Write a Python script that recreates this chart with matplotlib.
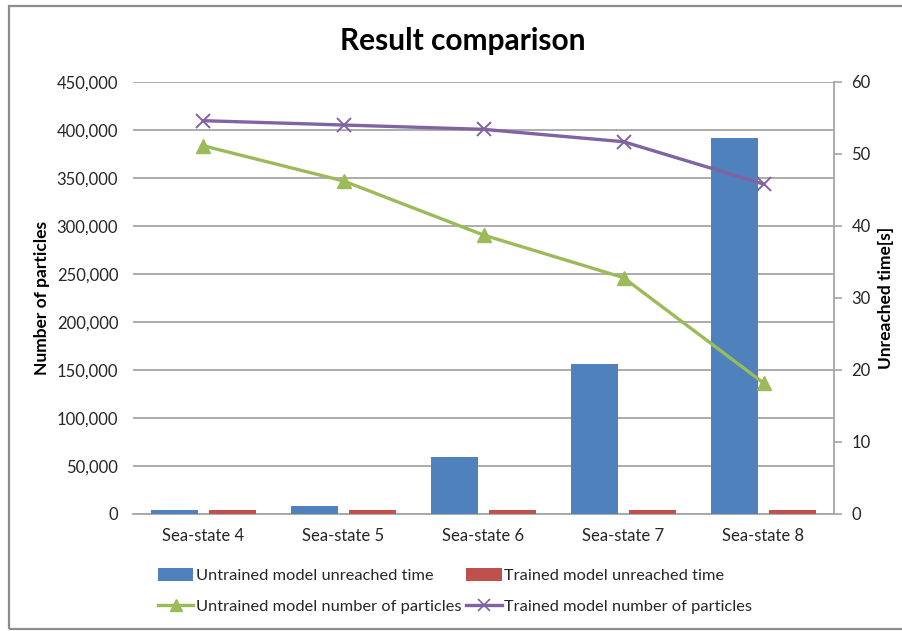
import matplotlib
matplotlib.use("Agg")
import matplotlib.pyplot as plt
from matplotlib.lines import Line2D
from matplotlib.patches import Patch
from matplotlib.ticker import FuncFormatter, MultipleLocator
import numpy as np

plt.rcParams['font.family'] = ['Lato', 'DejaVu Sans']

categories = ["Sea-state 4", "Sea-state 5", "Sea-state 6", "Sea-state 7", "Sea-state 8"]
untrained_time = [0.5, 1.1, 7.9, 20.9, 52.2]
trained_time = [0.5, 0.5, 0.5, 0.5, 0.5]
untrained_particles = [383500, 346900, 290600, 246200, 136500]
trained_particles = [409700, 405200, 400700, 387800, 343700]

BLUE = "#4F81BD"
RED = "#C0504D"
GREEN = "#9BBB59"
PURPLE = "#8064A2"
GRID = "#A6A6A6"
TEXT = "#262626"

W, H = 903, 631
fig = plt.figure(figsize=(W / 100, H / 100), dpi=100)

# chart frame
frame = plt.Rectangle((9 / W, 0.003), 1.2, (H - 6 - 2) / H, transform=fig.transFigure,
                      fill=False, edgecolor="#8C8C8C", linewidth=1.6, zorder=0)
fig.add_artist(frame)

left, right, top, bottom = 133.5, 833.5, 82, 514
rect = [left / W, 1 - bottom / H, (right - left) / W, (bottom - top) / H]

x = np.arange(len(categories))

# base axes: particle scale, gridlines, left tick labels
ax = fig.add_axes(rect)
ax.set_xlim(-0.5, len(categories) - 0.5)
ax.set_ylim(0, 450000)
ax.yaxis.set_major_locator(MultipleLocator(50000))
ax.yaxis.set_major_formatter(FuncFormatter(lambda v, p: f"{int(v):,}"))
ax.grid(axis="y", color=GRID, linewidth=1.3)
ax.set_axisbelow(True)
for s in ("left", "top", "right"):
    ax.spines[s].set_visible(False)
ax.spines["bottom"].set_color(GRID)
ax.spines["bottom"].set_linewidth(1.3)
ax.tick_params(axis="y", length=0, pad=11, labelsize=12, labelcolor=TEXT)
ax.tick_params(axis="x", length=0, pad=10, labelsize=12, labelcolor=TEXT)
ax.set_xticks(x)
ax.set_xticklabels(categories)
ax.set_ylabel("Number of particles", fontsize=12.5, fontweight="bold", color="black", labelpad=5)

# time axis on the right with the bars
axb = ax.twinx()
axb.set_ylim(0, 60)
axb.yaxis.set_major_locator(MultipleLocator(10))
for s in ("left", "top", "bottom"):
    axb.spines[s].set_visible(False)
axb.spines["right"].set_color(GRID)
axb.spines["right"].set_linewidth(1.3)
axb.tick_params(axis="y", length=6, width=1.2, color=GRID, pad=7, labelsize=12, labelcolor=TEXT)
axb.set_ylabel("Unreached time[s]", fontsize=12.5, fontweight="bold", color="black", labelpad=5)
bw = 0.336
off = 0.208
axb.bar(x - off, untrained_time, width=bw, color=BLUE, zorder=2)
axb.bar(x + off, trained_time, width=bw, color=RED, zorder=2)

# lines drawn above the bars on the particle scale
axl = fig.add_axes(rect, sharex=ax, sharey=ax)
axl.patch.set_visible(False)
axl.axis("off")
axl.plot(x, untrained_particles, color=GREEN, linewidth=2.4, marker="^", markersize=10,
         markeredgecolor=GREEN, markerfacecolor=GREEN)
axl.plot(x, trained_particles, color=PURPLE, linewidth=2.4, marker="x", markersize=10,
         markeredgewidth=1.4)

fig.text(0.513, 1 - 41 / H, "Result comparison", ha="center", va="center",
         fontsize=21.5, fontweight="bold", color="black")

handles = [
    Patch(facecolor=BLUE, edgecolor="none"),
    Line2D([], [], color=GREEN, linewidth=2.4, marker="^", markersize=8),
    Patch(facecolor=RED, edgecolor="none"),
    Line2D([], [], color=PURPLE, linewidth=2.4, marker="x", markersize=8, markeredgewidth=1.2),
]
labels = [
    "Untrained model unreached time",
    "Untrained model number of particles",
    "Trained model unreached time",
    "Trained model number of particles",
]
leg = fig.legend(handles, labels, ncol=2, loc="center left",
                 bbox_to_anchor=(150 / W, 1 - 591 / H), frameon=False,
                 fontsize=11.8, handlelength=2.15, handleheight=0.9, handletextpad=0.15,
                 columnspacing=0.3, labelspacing=0.95, borderpad=0)
for t in leg.get_texts():
    t.set_color(TEXT)

fig.savefig("out.png", dpi=100)
